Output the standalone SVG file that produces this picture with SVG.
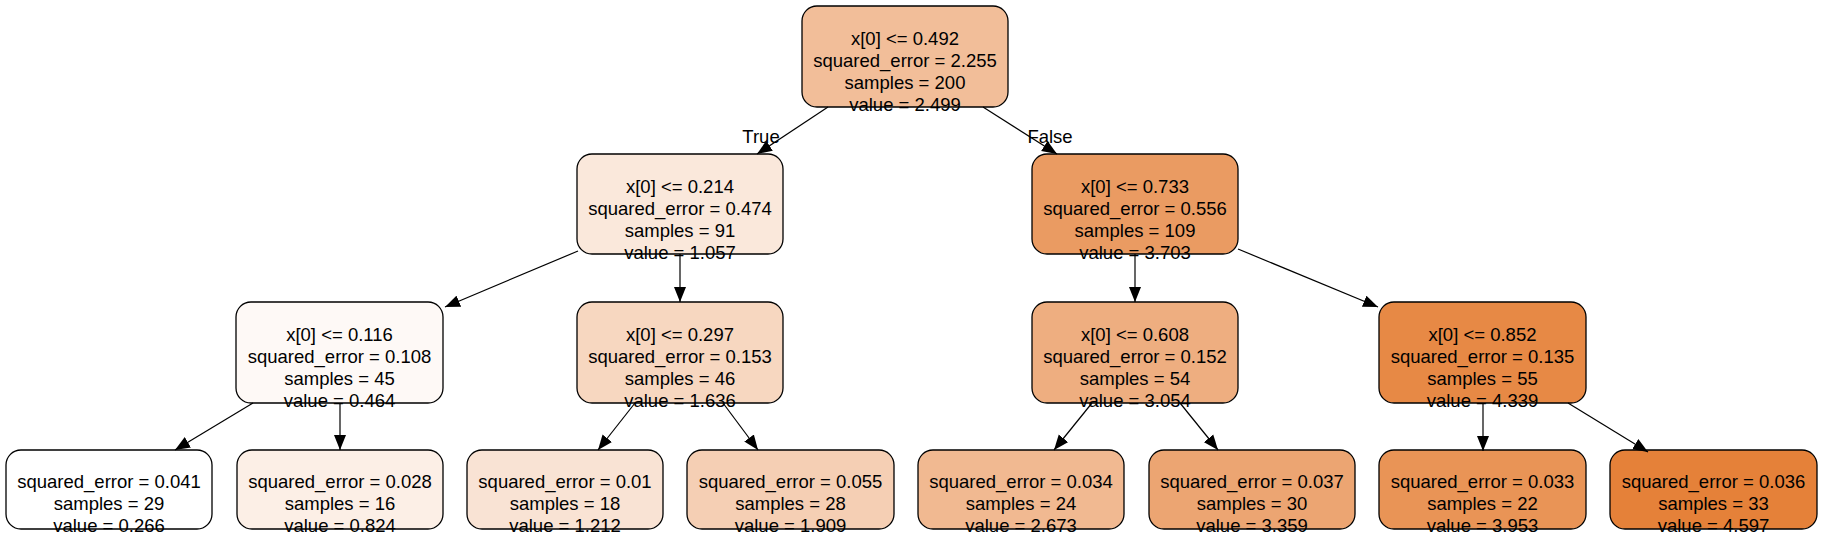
<svg xmlns="http://www.w3.org/2000/svg" width="1821" height="533" viewBox="0 0 1821 533">
<style>
.box{stroke:#000;stroke-width:1.3}
text{font-family:"Liberation Sans",Arial,sans-serif;font-size:18.5px;fill:#000;text-anchor:middle}
.e{stroke:#000;stroke-width:1.2;fill:none;marker-end:url(#ah)}
</style>
<defs>
<marker id="ah" markerUnits="userSpaceOnUse" markerWidth="15" markerHeight="13" viewBox="0 0 15 13" refX="15" refY="6.5" orient="auto">
<path d="M0,0.5 L15,6.5 L0,12.5 Z" fill="#000"/>
</marker>
</defs>
<rect width="1821" height="533" fill="#fff"/>
<g id="n0"><rect class="box" x="802" y="6" width="206" height="101" rx="15" fill="#f2be99"/>
<text x="905" y="44.5">x[0] &lt;= 0.492</text><text x="905" y="66.7">squared_error = 2.255</text><text x="905" y="88.9">samples = 200</text><text x="905" y="111.1">value = 2.499</text></g>
<g id="n1"><rect class="box" x="577" y="154" width="206" height="100" rx="15" fill="#fae8db"/>
<text x="680" y="192.5">x[0] &lt;= 0.214</text><text x="680" y="214.7">squared_error = 0.474</text><text x="680" y="236.9">samples = 91</text><text x="680" y="259.1">value = 1.057</text></g>
<g id="n8"><rect class="box" x="1032" y="154" width="206" height="100" rx="15" fill="#ea9b62"/>
<text x="1135" y="192.5">x[0] &lt;= 0.733</text><text x="1135" y="214.7">squared_error = 0.556</text><text x="1135" y="236.9">samples = 109</text><text x="1135" y="259.1">value = 3.703</text></g>
<g id="n2"><rect class="box" x="236" y="302" width="207" height="101" rx="15" fill="#fef9f6"/>
<text x="339.5" y="340.5">x[0] &lt;= 0.116</text><text x="339.5" y="362.7">squared_error = 0.108</text><text x="339.5" y="384.9">samples = 45</text><text x="339.5" y="407.1">value = 0.464</text></g>
<g id="n5"><rect class="box" x="577" y="302" width="206" height="101" rx="15" fill="#f7d7c0"/>
<text x="680" y="340.5">x[0] &lt;= 0.297</text><text x="680" y="362.7">squared_error = 0.153</text><text x="680" y="384.9">samples = 46</text><text x="680" y="407.1">value = 1.636</text></g>
<g id="n9"><rect class="box" x="1032" y="302" width="206" height="101" rx="15" fill="#eeae80"/>
<text x="1135" y="340.5">x[0] &lt;= 0.608</text><text x="1135" y="362.7">squared_error = 0.152</text><text x="1135" y="384.9">samples = 54</text><text x="1135" y="407.1">value = 3.054</text></g>
<g id="n12"><rect class="box" x="1379" y="302" width="207" height="101" rx="15" fill="#e78945"/>
<text x="1482.5" y="340.5">x[0] &lt;= 0.852</text><text x="1482.5" y="362.7">squared_error = 0.135</text><text x="1482.5" y="384.9">samples = 55</text><text x="1482.5" y="407.1">value = 4.339</text></g>
<g id="n3"><rect class="box" x="6" y="450" width="206" height="79" rx="15" fill="#ffffff"/>
<text x="109" y="488">squared_error = 0.041</text><text x="109" y="510.2">samples = 29</text><text x="109" y="532.4">value = 0.266</text></g>
<g id="n4"><rect class="box" x="237" y="450" width="206" height="79" rx="15" fill="#fcefe6"/>
<text x="340" y="488">squared_error = 0.028</text><text x="340" y="510.2">samples = 16</text><text x="340" y="532.4">value = 0.824</text></g>
<g id="n6"><rect class="box" x="467" y="450" width="196" height="79" rx="15" fill="#f9e3d4"/>
<text x="565" y="488">squared_error = 0.01</text><text x="565" y="510.2">samples = 18</text><text x="565" y="532.4">value = 1.212</text></g>
<g id="n7"><rect class="box" x="687" y="450" width="207" height="79" rx="15" fill="#f5cfb4"/>
<text x="790.5" y="488">squared_error = 0.055</text><text x="790.5" y="510.2">samples = 28</text><text x="790.5" y="532.4">value = 1.909</text></g>
<g id="n10"><rect class="box" x="918" y="450" width="206" height="79" rx="15" fill="#f1b991"/>
<text x="1021" y="488">squared_error = 0.034</text><text x="1021" y="510.2">samples = 24</text><text x="1021" y="532.4">value = 2.673</text></g>
<g id="n11"><rect class="box" x="1149" y="450" width="206" height="79" rx="15" fill="#eca572"/>
<text x="1252" y="488">squared_error = 0.037</text><text x="1252" y="510.2">samples = 30</text><text x="1252" y="532.4">value = 3.359</text></g>
<g id="n13"><rect class="box" x="1379" y="450" width="207" height="79" rx="15" fill="#e99456"/>
<text x="1482.5" y="488">squared_error = 0.033</text><text x="1482.5" y="510.2">samples = 22</text><text x="1482.5" y="532.4">value = 3.953</text></g>
<g id="n14"><rect class="box" x="1610" y="450" width="207" height="79" rx="15" fill="#e58139"/>
<text x="1713.5" y="488">squared_error = 0.036</text><text x="1713.5" y="510.2">samples = 33</text><text x="1713.5" y="532.4">value = 4.597</text></g>
<g id="edges">
<line class="e" x1="828" y1="107" x2="757" y2="154"/>
<line class="e" x1="983" y1="107" x2="1057" y2="154"/>
<line class="e" x1="578" y1="251" x2="445" y2="307"/>
<line class="e" x1="680" y1="254" x2="680" y2="302"/>
<line class="e" x1="253" y1="403" x2="175" y2="450"/>
<line class="e" x1="340" y1="403" x2="340" y2="450"/>
<line class="e" x1="635" y1="403" x2="598" y2="450"/>
<line class="e" x1="723" y1="403" x2="758" y2="450"/>
<line class="e" x1="1135" y1="254" x2="1135" y2="302"/>
<line class="e" x1="1238" y1="249" x2="1378" y2="307"/>
<line class="e" x1="1092" y1="403" x2="1054" y2="450"/>
<line class="e" x1="1180" y1="403" x2="1218" y2="450"/>
<line class="e" x1="1483" y1="403" x2="1483" y2="451"/>
<line class="e" x1="1568" y1="403" x2="1648" y2="452"/>
<text x="761" y="143">True</text>
<text x="1050" y="143">False</text>
</g>
</svg>
